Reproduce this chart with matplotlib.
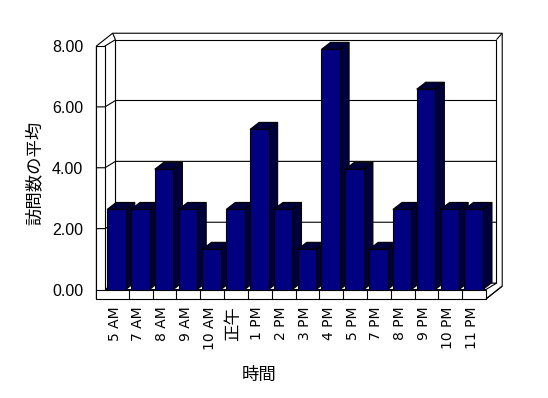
import matplotlib
matplotlib.use("Agg")
import matplotlib.pyplot as plt
from matplotlib.patches import Polygon

plt.rcParams["font.family"] = ["DejaVu Sans", "Noto Sans CJK JP"]

hours = ["5 AM", "7 AM", "8 AM", "9 AM", "10 AM", "正午", "1 PM", "2 PM",
         "3 PM", "4 PM", "5 PM", "7 PM", "8 PM", "9 PM", "10 PM", "11 PM"]
avg_visits = [2.63, 2.63, 3.95, 2.63, 1.32, 2.63, 5.26, 2.63,
              1.32, 7.89, 3.95, 1.32, 2.63, 6.58, 2.63, 2.63]
y_ticks = [0, 2, 4, 6, 8]

N = len(hours)
YMAX = 8

# fake 3d geometry, in data units
DX, DY = 0.44, 0.21      # depth of the box
TX, TY = 0.36, 0.31      # left wall / floor thickness
BX, BY = 0.24, 0.21      # back wall thickness
BAR_W = 0.78
BAR_DX, BAR_DY = 0.38, 0.23

LW = 0.8
FRONT = "#000080"
SHADE = "#00003c"

fig = plt.figure(figsize=(5.48, 3.98), dpi=100)
ax = fig.add_axes([0.1916, 0.2726, 0.6953, 0.6118])
ax.set_xlim(0, N)
ax.set_ylim(0, YMAX)
for s in ax.spines.values():
    s.set_visible(False)


def poly(pts, fc="white", z=1):
    ax.add_patch(Polygon(pts, closed=True, facecolor=fc, edgecolor="black",
                         linewidth=LW, clip_on=False, zorder=z,
                         joinstyle="miter"))


def line(xs, ys, z=1.5):
    ax.plot(xs, ys, color="black", linewidth=LW, clip_on=False, zorder=z,
            solid_capstyle="butt")


# outer silhouette of walls + floor
top = YMAX + DY + BY
poly([(-TX, -TY), (N, -TY), (N + DX + BX, DY - 0.1), (N + DX + BX, top),
      (DX - 0.12, top), (-TX, YMAX)], z=0.5)

# back wall face
poly([(DX, DY), (N + DX, DY), (N + DX, YMAX + DY), (DX, YMAX + DY)], z=0.6)
line([N + DX, N + DX + BX], [YMAX + DY, top])
line([DX, DX - 0.12], [YMAX + DY, top])

# left wall inner face and floor top
poly([(0, 0), (DX, DY), (DX, YMAX + DY), (0, YMAX)], z=0.7)
poly([(0, 0), (N, 0), (N + DX, DY), (DX, DY)], z=0.7)
line([N, N + DX + BX], [-TY, DY - 0.1])

# front faces of left wall and floor
poly([(-TX, -TY), (N, -TY), (N, 0), (0, 0), (0, YMAX), (-TX, YMAX)], z=0.8)

# gridlines: tick on the wall, diagonal, back wall
for v in y_ticks[1:-1]:
    line([-TX, 0, DX, N + DX], [v, v, v + DY, v + DY], z=0.9)
line([-TX, 0], [0, 0], z=0.9)

# category separators on floor front
for i in range(1, N):
    line([i, i], [-TY, 0], z=0.9)

# bars: side and top faces, then front faces
lefts = [i + 0.09 for i in range(N)]
for l, v in zip(lefts, avg_visits):
    r = l + BAR_W
    poly([(r, 0), (r + BAR_DX, BAR_DY), (r + BAR_DX, v + BAR_DY), (r, v)],
         fc=SHADE, z=2)
    poly([(l, v), (r, v), (r + BAR_DX, v + BAR_DY), (l + BAR_DX, v + BAR_DY)],
         fc=SHADE, z=2)

ax.bar(lefts, avg_visits, width=BAR_W, align="edge", color=FRONT,
       edgecolor="black", linewidth=LW, zorder=3)

ax.set_xticks([i + 0.4 for i in range(N)])
ax.set_xticklabels(hours, rotation=90, fontsize=10, va="top")
# the noon label is drawn with the CJK face, a bit bigger
ax.get_xticklabels()[hours.index("正午")].set_fontsize(12.5)
ax.set_yticks(y_ticks)
ax.set_yticklabels([f"{t:.2f}" for t in y_ticks], fontsize=11.5,
                   family="Liberation Sans")
ax.tick_params(axis="x", length=0, pad=12.4)
ax.tick_params(axis="y", length=0, pad=15.8)

ax.set_xlabel("時間", fontsize=12.5, family="Noto Sans CJK JP")
ax.set_ylabel("訪問数の平均", fontsize=12.5, family="Noto Sans CJK JP")
ax.xaxis.label.set_va("center")
ax.yaxis.label.set_va("center")
ax.xaxis.set_label_coords(0.404, -0.351)
ax.yaxis.set_label_coords(-0.184, 0.478)

fig.savefig("out.png", dpi=100)
plt.close(fig)
